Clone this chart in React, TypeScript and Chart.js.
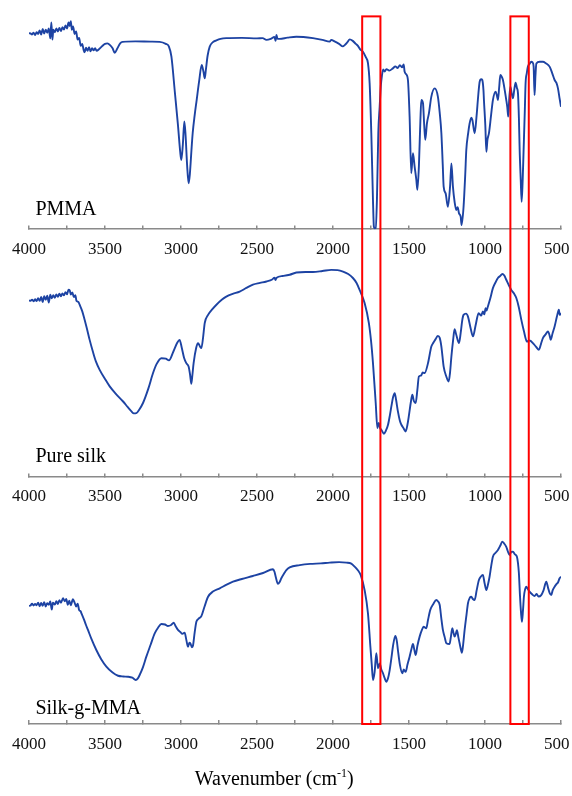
import React, { useEffect, useRef } from 'react';
import { Chart, registerables } from 'chart.js';

Chart.register(...registerables);

// ---------- data ----------
const xTickLabels = [4000, 3500, 3000, 2500, 2000, 1500, 1000, 500];
const sampleNames = ['PMMA', 'Pure silk', 'Silk-g-MMA'];
const xAxisTitle = 'Wavenumber (cm';
const xAxisTitleSup = '-1';
const xAxisTitleEnd = ')';

// highlighted wavenumber windows (red boxes)
const highlightBands = [
  [1808, 1688],
  [833, 712],
];

// PMMA spectrum (wavenumber cm-1, relative transmittance)
const pmmaWn = [
  4000, 3990, 3980, 3970, 3960, 3950, 3940, 3930, 3920, 3910, 3900, 3890, 3880, 3870, 3860, 3853, 3846, 3840, 3830, 3820,
  3810, 3800, 3790, 3780, 3770, 3760, 3750, 3740, 3732, 3725, 3718, 3710, 3700, 3690, 3680, 3670, 3660, 3650, 3640, 3634,
  3625, 3615, 3605, 3595, 3585, 3575, 3565, 3555, 3540, 3520, 3500, 3485, 3465, 3450, 3436, 3420, 3400, 3384, 3300, 3200,
  3140, 3100, 3080, 3063, 3040, 3020, 3005, 2998, 2988, 2978, 2970, 2960, 2950, 2942, 2930, 2923, 2910, 2897, 2880, 2864,
  2852, 2844, 2836, 2825, 2811, 2790, 2767, 2740, 2702, 2600, 2500, 2463, 2438, 2410, 2385, 2378, 2372, 2365, 2351, 2300,
  2241, 2132, 2070, 2022, 2011, 1990, 1960, 1935, 1923, 1905, 1890, 1870, 1850, 1836, 1820, 1803, 1785, 1770, 1759, 1748,
  1737, 1731, 1725, 1719, 1711, 1702, 1693, 1685, 1678, 1670, 1660, 1649, 1630, 1606, 1590, 1575, 1560, 1545, 1535, 1529,
  1518, 1507, 1496, 1485, 1474, 1463, 1452, 1445, 1435, 1425, 1419, 1408, 1400, 1393, 1382, 1369, 1353, 1331, 1310, 1298,
  1287, 1278, 1272, 1259, 1244, 1230, 1221, 1211, 1200, 1189, 1180, 1171, 1160, 1154, 1141, 1130, 1123, 1110, 1101, 1090,
  1083, 1068, 1055, 1047, 1040, 1035, 1025, 1018, 1010, 1007, 998, 991, 984, 974, 960, 948, 930, 922, 915, 907,
  899, 890, 882, 870, 860, 853, 847, 840, 833, 825, 816, 808, 799, 790, 783, 777, 772, 765, 759, 752,
  746, 738, 733, 725, 718, 706, 696, 686, 680, 674, 668, 662, 640, 619, 600, 575, 558, 542, 530, 520,
  510, 500,
];
const pmmaT = [
  79.1, 79.0, 78.6, 79.3, 78.4, 79.5, 78.8, 80.2, 78.6, 80.8, 79.0, 80.5, 79.3, 81.0, 77.0, 83.5, 76.5, 80.5, 79.5, 81.0,
  79.8, 81.2, 80.0, 81.5, 80.6, 82.2, 81.0, 83.4, 82.0, 84.0, 80.5, 81.8, 78.8, 79.8, 76.5, 77.2, 74.0, 74.8, 72.2, 71.4,
  73.2, 72.0, 73.5, 71.8, 73.0, 72.2, 73.0, 72.0, 72.6, 73.8, 74.8, 75.0, 74.2, 73.0, 71.2, 72.8, 75.0, 75.6, 75.8, 75.7,
  75.6, 74.8, 73.8, 69.6, 55.0, 42.0, 31.0, 27.9, 34.0, 43.4, 38.0, 26.0, 18.5, 22.0, 33.0, 38.8, 46.0, 52.1, 60.0, 66.3,
  63.5, 60.9, 64.5, 70.0, 73.7, 75.5, 76.2, 76.8, 77.1, 77.2, 77.0, 77.1, 76.4, 76.8, 77.6, 76.0, 78.4, 76.8, 76.8, 77.3,
  77.7, 77.1, 76.4, 75.7, 76.4, 75.8, 74.8, 73.8, 74.3, 75.5, 76.6, 76.0, 74.8, 74.0, 72.5, 71.6, 69.5, 67.0, 58.9, 38.8,
  11.7, 0.9, 0.3, 0.4, 11.7, 38.8, 49.4, 58.0, 62.0, 64.5, 63.6, 64.6, 64.0, 64.9, 65.7, 65.0, 66.2, 65.3, 66.5, 63.6,
  62.5, 60.2, 45.4, 22.5, 30.6, 25.2, 20.0, 15.8, 25.2, 44.0, 52.1, 50.8, 42.0, 36.0, 42.7, 46.7, 53.5, 56.8, 53.5, 47.0,
  38.7, 26.0, 17.1, 14.4, 9.0, 17.0, 26.5, 17.1, 11.0, 7.7, 8.8, 6.3, 5.0, 1.6, 9.0, 22.0, 31.9, 39.0, 42.7, 45.0,
  44.0, 38.7, 46.0, 52.1, 57.0, 59.5, 60.5, 60.2, 56.0, 52.1, 42.0, 31.2, 36.0, 38.7, 46.0, 52.1, 55.5, 54.0, 52.1, 57.0,
  62.2, 61.5, 60.2, 56.0, 52.1, 49.0, 45.4, 53.0, 57.5, 55.0, 52.8, 56.0, 59.1, 57.0, 54.8, 45.0, 31.9, 20.0, 11.0, 20.0,
  31.9, 48.0, 58.9, 63.0, 65.6, 66.8, 67.6, 67.2, 65.6, 54.1, 62.0, 66.9, 67.6, 67.6, 67.0, 65.6, 63.0, 60.2, 59.0, 56.8,
  53.0, 49.4,
];

// Pure silk spectrum
const silkWn = [
  4000, 3990, 3980, 3970, 3960, 3950, 3940, 3930, 3920, 3910, 3900, 3890, 3880, 3870, 3860, 3850, 3840, 3830, 3820, 3810,
  3800, 3790, 3780, 3770, 3760, 3750, 3740, 3732, 3725, 3715, 3705, 3695, 3688, 3675, 3667, 3650, 3634, 3620, 3601, 3580,
  3560, 3535, 3500, 3469, 3430, 3381, 3350, 3326, 3310, 3294, 3275, 3250, 3215, 3184, 3160, 3129, 3100, 3079, 3050, 3025,
  3009, 2995, 2980, 2965, 2950, 2940, 2932, 2925, 2917, 2900, 2888, 2875, 2866, 2855, 2844, 2822, 2795, 2767, 2730, 2702,
  2660, 2614, 2570, 2527, 2480, 2438, 2400, 2385, 2378, 2373, 2330, 2285, 2241, 2180, 2132, 2070, 2011, 1970, 1934, 1900,
  1869, 1845, 1825, 1792, 1764, 1750, 1737, 1719, 1708, 1703, 1698, 1690, 1682, 1665, 1652, 1638, 1625, 1616, 1605, 1594,
  1585, 1573, 1560, 1550, 1536, 1522, 1510, 1500, 1488, 1478, 1468, 1456, 1445, 1435, 1420, 1410, 1397, 1375, 1353, 1340,
  1325, 1310, 1298, 1287, 1272, 1255, 1239, 1230, 1221, 1210, 1200, 1190, 1171, 1160, 1150, 1141, 1125, 1112, 1095, 1079,
  1062, 1042, 1025, 1014, 1005, 996, 990, 981, 965, 948, 930, 915, 900, 886, 873, 860, 845, 827, 810, 794,
  778, 761, 745, 724, 710, 700, 685, 665, 645, 632, 619, 600, 586, 575, 568, 555, 542, 527, 514, 509,
  500,
];
const silkT = [
  71.1, 71.0, 71.4, 70.8, 71.6, 70.9, 72.0, 71.0, 72.5, 70.5, 72.8, 71.4, 73.0, 70.3, 73.5, 72.0, 73.2, 72.2, 73.6, 72.6,
  73.9, 72.8, 74.0, 73.2, 74.5, 73.6, 75.5, 75.2, 73.5, 74.4, 72.5, 73.3, 71.0, 70.5, 69.4, 66.8, 63.3, 60.0, 55.2, 50.5,
  46.5, 43.1, 39.4, 36.4, 33.5, 30.3, 28.0, 26.3, 25.5, 25.6, 27.0, 29.7, 35.5, 41.8, 45.5, 47.8, 47.6, 46.9, 50.5, 54.0,
  55.2, 52.0, 48.0, 45.8, 44.4, 41.0, 37.5, 41.0, 45.8, 52.0, 53.9, 52.5, 51.9, 56.0, 62.0, 65.3, 67.5, 69.4, 71.5, 72.7,
  73.8, 74.7, 76.2, 77.5, 78.2, 78.8, 79.6, 80.3, 79.4, 80.2, 81.0, 81.5, 82.4, 82.6, 82.6, 83.0, 83.5, 83.4, 82.8, 81.8,
  80.2, 78.2, 75.4, 70.1, 62.0, 55.0, 45.8, 29.7, 19.6, 21.0, 21.6, 19.5, 18.9, 17.3, 18.5, 20.9, 25.0, 28.3, 32.0, 33.7,
  31.0, 26.3, 22.5, 20.9, 19.5, 18.2, 21.0, 24.9, 30.0, 33.0, 30.5, 29.7, 35.0, 40.4, 40.8, 42.0, 41.8, 45.8, 52.5, 54.0,
  55.5, 56.8, 56.0, 52.5, 44.4, 40.5, 38.4, 42.0, 48.5, 55.0, 59.5, 57.5, 53.9, 58.0, 63.0, 65.3, 65.8, 64.6, 60.0, 56.6,
  61.0, 66.0, 65.0, 66.7, 65.5, 68.0, 67.0, 68.7, 72.0, 76.1, 78.5, 80.2, 81.0, 81.8, 81.2, 79.5, 77.5, 75.4, 74.0, 72.1,
  68.5, 63.3, 59.0, 54.5, 55.0, 54.8, 53.9, 52.5, 51.2, 53.5, 55.9, 57.5, 58.6, 57.0, 55.2, 58.0, 60.6, 64.6, 67.4, 65.3,
  66.0,
];

// Silk-g-MMA spectrum
const graftWn = [
  4000, 3990, 3980, 3970, 3960, 3950, 3940, 3930, 3920, 3910, 3900, 3890, 3880, 3870, 3860, 3850, 3843, 3830, 3820, 3810,
  3800, 3790, 3776, 3765, 3755, 3745, 3735, 3725, 3711, 3700, 3690, 3680, 3670, 3660, 3655, 3640, 3625, 3612, 3590, 3557,
  3525, 3491, 3450, 3414, 3380, 3349, 3320, 3298, 3285, 3272, 3250, 3228, 3200, 3173, 3150, 3129, 3105, 3086, 3065, 3048,
  3035, 3020, 3005, 2991, 2976, 2965, 2954, 2945, 2938, 2928, 2921, 2910, 2899, 2885, 2866, 2845, 2822, 2790, 2745, 2700,
  2658, 2600, 2527, 2460, 2395, 2385, 2377, 2362, 2350, 2340, 2320, 2307, 2285, 2219, 2150, 2080, 2022, 1960, 1912, 1880,
  1858, 1835, 1818, 1792, 1770, 1754, 1745, 1737, 1726, 1715, 1704, 1693, 1682, 1671, 1660, 1649, 1638, 1627, 1615, 1606,
  1590, 1580, 1573, 1560, 1544, 1535, 1522, 1510, 1496, 1485, 1474, 1465, 1456, 1445, 1430, 1415, 1404, 1386, 1375, 1360,
  1340, 1320, 1310, 1298, 1288, 1277, 1265, 1254, 1233, 1225, 1215, 1208, 1200, 1192, 1185, 1175, 1167, 1160, 1152, 1144,
  1134, 1122, 1112, 1100, 1090, 1080, 1068, 1055, 1040, 1028, 1014, 1003, 991, 980, 970, 960, 948, 930, 915, 900,
  886, 875, 860, 850, 838, 828, 816, 803, 790, 783, 777, 770, 763, 757, 750, 744, 736, 728, 718, 707,
  690, 674, 660, 648, 630, 615, 597, 585, 575, 564, 555, 542, 530, 520, 509, 500,
];
const graftT = [
  47.7, 47.9, 48.6, 47.9, 48.5, 48.0, 49.0, 47.6, 48.9, 47.8, 49.2, 47.5, 48.8, 48.2, 49.5, 46.2, 49.0, 48.3, 49.6, 48.5,
  50.0, 49.0, 50.8, 49.6, 50.5, 48.2, 49.8, 48.0, 50.4, 49.0, 47.5, 48.6, 46.0, 45.5, 44.7, 42.5, 40.0, 38.0, 34.5, 29.9,
  26.2, 23.2, 20.8, 19.5, 19.2, 19.1, 18.7, 17.8, 18.3, 19.8, 23.0, 27.2, 32.0, 36.6, 39.0, 40.4, 40.2, 39.6, 40.0, 40.9,
  39.5, 38.0, 37.2, 36.4, 36.9, 34.0, 31.2, 32.8, 32.5, 31.0, 31.7, 37.0, 41.3, 42.5, 43.6, 47.5, 51.4, 53.5, 54.8, 56.3,
  57.5, 58.6, 59.8, 61.0, 62.5, 61.5, 59.5, 56.6, 57.5, 58.9, 61.0, 62.2, 63.3, 64.2, 64.7, 64.9, 65.2, 65.4, 65.2, 64.8,
  63.6, 62.0, 60.2, 54.1, 44.7, 31.2, 24.0, 17.8, 21.1, 28.6, 22.5, 24.5, 22.0, 20.5, 18.5, 17.1, 18.5, 21.8, 27.0, 31.2,
  35.6, 33.5, 29.9, 24.0, 20.5, 22.0, 21.1, 24.0, 27.2, 30.0, 32.3, 30.0, 27.9, 31.5, 35.3, 38.0, 39.3, 38.7, 42.0, 46.1,
  48.5, 50.1, 49.6, 48.1, 43.0, 38.0, 35.0, 32.6, 32.3, 35.0, 38.7, 37.0, 35.3, 36.5, 37.9, 35.0, 32.6, 30.5, 28.8, 32.0,
  38.0, 44.0, 48.8, 51.0, 51.4, 50.5, 50.1, 54.0, 58.2, 59.5, 60.2, 57.0, 54.1, 56.5, 59.5, 63.5, 67.6, 69.2, 70.3, 72.0,
  73.7, 73.0, 71.6, 69.8, 68.3, 69.5, 69.6, 68.5, 67.6, 65.0, 60.9, 52.0, 45.0, 41.3, 46.0, 51.4, 54.5, 55.5, 54.5, 53.5,
  52.4, 51.7, 52.5, 51.5, 52.1, 54.0, 57.5, 55.0, 53.0, 52.1, 54.0, 55.5, 56.5, 57.2, 58.9, 59.5,
];

const seriesWn = [pmmaWn, silkWn, graftWn];
const seriesT = [pmmaT, silkT, graftT];

// ---------- layout / style ----------
const FONT = '"Times New Roman", "Liberation Serif", "DejaVu Serif", serif';
const LINE_COLOR = '#1d43a3';
const AXIS_COLOR = '#8a8a8a';
const PANEL_OFFSETS = [2, 1, 0]; // each panel is one unit of the hidden y scale
const Y_MAX = 2.8848;
const BOX_TOP = 2.859;
const LABEL_WN = 3958;
const LABEL_RAISE = [0.0566, 0.058, 0.04];
const TITLE_CENTER_WN = 2387;
const X_MIN = 500;

const makeXAxis = (position: any) => ({
  type: 'linear',
  position,
  reverse: true,
  min: X_MIN,
  max: 4000,
  afterFit: (scale: any) => {
    // labels may overhang the plot edges, as in the original figure
    scale.paddingLeft = 0;
    scale.paddingRight = 0;
  },
  ticks: {
    stepSize: 250,
    autoSkip: false,
    maxRotation: 0,
    minRotation: 0,
    padding: 14,
    color: '#111111',
    font: { family: FONT, size: 17 },
    callback: (v: any) => {
      const n = Number(v);
      if (!xTickLabels.includes(n)) return '';
      // keep the last label inside the figure edge
      return n === X_MIN ? String(n) + '\u00a0\u00a0' : String(n);
    },
  },
  grid: {
    display: true,
    drawOnChartArea: false,
    drawTicks: true,
    tickLength: -4,
    color: AXIS_COLOR,
    lineWidth: 1.5,
  },
  border: { display: true, color: AXIS_COLOR, width: 1.5 },
});

const overlayPlugin = {
  id: 'ftirOverlay',
  afterDraw(chart: any) {
    const { ctx, scales } = chart;
    const xs = scales.x3;
    const ys = scales.y;
    ctx.save();
    // red highlight boxes
    ctx.strokeStyle = '#ff0000';
    ctx.lineWidth = 2;
    const yTop = ys.getPixelForValue(BOX_TOP);
    const yBot = ys.getPixelForValue(0);
    for (const [a, b] of highlightBands) {
      const x1 = xs.getPixelForValue(a);
      const x2 = xs.getPixelForValue(b);
      ctx.strokeRect(x1, yTop, x2 - x1, yBot - yTop);
    }
    // sample labels
    ctx.fillStyle = '#000000';
    ctx.font = `20px ${FONT}`;
    ctx.textAlign = 'left';
    ctx.textBaseline = 'alphabetic';
    sampleNames.forEach((name, i) => {
      ctx.fillText(name, xs.getPixelForValue(LABEL_WN), ys.getPixelForValue(PANEL_OFFSETS[i] + LABEL_RAISE[i]));
    });
    // axis title with superscript
    const baseY = ys.getPixelForValue(0) + 61;
    ctx.font = `20px ${FONT}`;
    const w1 = ctx.measureText(xAxisTitle).width;
    const w3 = ctx.measureText(xAxisTitleEnd).width;
    ctx.font = `12px ${FONT}`;
    const w2 = ctx.measureText(xAxisTitleSup).width;
    const total = w1 + w2 + w3;
    let x = xs.getPixelForValue(TITLE_CENTER_WN) - total / 2;
    ctx.font = `20px ${FONT}`;
    ctx.fillText(xAxisTitle, x, baseY);
    x += w1;
    ctx.font = `12px ${FONT}`;
    ctx.fillText(xAxisTitleSup, x, baseY - 8);
    x += w2;
    ctx.font = `20px ${FONT}`;
    ctx.fillText(xAxisTitleEnd, x, baseY);
    ctx.restore();
  },
};

export default function App() {
  const canvasRef = useRef<HTMLCanvasElement | null>(null);

  useEffect(() => {
    if (!canvasRef.current) return;
    const datasets = seriesWn.map((wn, s) => ({
      label: sampleNames[s],
      data: wn.map((w, i) => ({ x: w, y: PANEL_OFFSETS[s] + seriesT[s][i] / 100 })),
      borderColor: LINE_COLOR,
      backgroundColor: LINE_COLOR,
      borderWidth: 1.9,
      pointRadius: 0,
      fill: false,
      cubicInterpolationMode: 'monotone',
      xAxisID: 'x3',
      yAxisID: 'y',
    }));

    const chart = new Chart(canvasRef.current, {
      type: 'line',
      data: { datasets } as any,
      options: {
        animation: false,
        responsive: false,
        maintainAspectRatio: false,
        devicePixelRatio: 1,
        events: [],
        layout: { padding: { left: 29, right: 11, top: 10, bottom: 27.6 } },
        plugins: { legend: { display: false }, tooltip: { enabled: false }, title: { display: false } },
        scales: {
          x1: makeXAxis({ y: PANEL_OFFSETS[0] }),
          x2: makeXAxis({ y: PANEL_OFFSETS[1] }),
          x3: makeXAxis('bottom'),
          y: { type: 'linear', display: false, min: 0, max: Y_MAX },
        } as any,
      },
      plugins: [overlayPlugin],
    });
    return () => chart.destroy();
  }, []);

  return (
    <div style={{ position: 'absolute', left: 0, top: 0, width: 572, height: 796, background: '#ffffff' }}>
      <canvas ref={canvasRef} width={572} height={796} />
    </div>
  );
}
